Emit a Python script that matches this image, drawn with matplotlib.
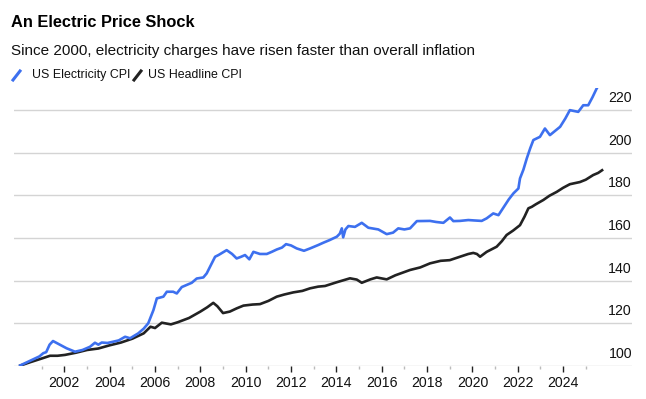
import matplotlib
matplotlib.use("Agg")
import matplotlib.pyplot as plt
import matplotlib.transforms as mtransforms
from matplotlib.lines import Line2D

plt.rcParams['font.family'] = ['Liberation Sans', 'DejaVu Sans']

# electricity CPI, rebased Jan 2000 = 100 (decimal years)
elec_years = [2000.0, 2000.3, 2000.6, 2000.9, 2001.07, 2001.2, 2001.35, 2001.5, 2001.8,
              2002.1, 2002.47, 2002.8, 2003.13, 2003.35, 2003.5, 2003.65, 2003.9, 2004.16,
              2004.4, 2004.68, 2004.9, 2005.26, 2005.5, 2005.7, 2005.93, 2006.08, 2006.2,
              2006.37, 2006.52, 2006.8, 2006.96, 2007.18, 2007.4, 2007.62, 2007.84, 2008.13,
              2008.28, 2008.45, 2008.65, 2008.8, 2009.16, 2009.4, 2009.6, 2009.8, 2009.97,
              2010.16, 2010.34, 2010.63, 2010.93, 2011.15, 2011.37, 2011.6, 2011.78, 2012.0,
              2012.25, 2012.57, 2012.84, 2013.2, 2013.43, 2013.7, 2014.02, 2014.15, 2014.24,
              2014.3, 2014.4, 2014.53, 2014.82, 2015.12, 2015.41, 2015.85, 2016.22, 2016.5,
              2016.73, 2017.0, 2017.25, 2017.55, 2018.13, 2018.4, 2018.72, 2019.01, 2019.16,
              2019.45, 2019.82, 2020.1, 2020.41, 2020.63, 2020.92, 2021.15, 2021.44, 2021.6,
              2021.81, 2022.03, 2022.1, 2022.25, 2022.4, 2022.55, 2022.69, 2022.98, 2023.2,
              2023.42, 2023.65, 2023.87, 2024.1, 2024.3, 2024.67, 2024.89, 2025.11, 2025.3,
              2025.48, 2025.65]
elec_vals = [100, 101.5, 103, 104.5, 106, 106.5, 110, 111.7, 110,
             108.3, 106.7, 107.5, 109, 110.9, 110, 111, 110.8, 111.4,
             112, 113.7, 113, 115.3, 117.5, 120, 126.2, 131.7, 132,
             132.5, 134.8, 134.8, 134, 137, 138, 139, 141, 141.5,
             143.4, 147, 151.2, 152, 154.3, 152.5, 150.4, 151.2, 152,
             150, 153.5, 152.5, 152.5, 153.5, 154.6, 155.5, 157.1, 156.5,
             155.1, 154, 155.1, 156.7, 157.8, 159, 160.6, 162, 164.5,
             160.3, 164, 165.6, 165.2, 167.1, 164.8, 164, 161.8, 162.5,
             164.5, 164, 164.5, 167.9, 168, 167.5, 167.1, 169.6, 167.9,
             168, 168.4, 168.2, 168, 169.2, 171.5, 170.7, 175.4, 178,
             180.9, 183.2, 187.9, 192, 197.3, 202, 205.9, 207.4, 211.3,
             208.2, 210.2, 212.1, 216, 219.9, 219.1, 222.2, 222.2, 226,
             230, 233]

# headline CPI, rebased Jan 2000 = 100
head_years = [2000.0, 2000.5, 2001.0, 2001.37, 2001.7, 2002.03, 2002.5, 2003.0, 2003.5,
              2004.0, 2004.5, 2005.0, 2005.5, 2005.8, 2006.0, 2006.3, 2006.7, 2007.0,
              2007.5, 2008.0, 2008.3, 2008.57, 2008.75, 2009.0, 2009.3, 2009.6, 2009.9,
              2010.3, 2010.63, 2011.0, 2011.37, 2011.7, 2012.1, 2012.5, 2012.84, 2013.2,
              2013.5, 2014.0, 2014.6, 2014.9, 2015.12, 2015.5, 2015.78, 2016.22, 2016.6,
              2017.25, 2017.7, 2018.13, 2018.6, 2019.0, 2019.45, 2019.82, 2020.04, 2020.2,
              2020.34, 2020.63, 2021.07, 2021.3, 2021.51, 2021.8, 2022.1, 2022.3, 2022.47,
              2022.62, 2022.8, 2023.13, 2023.4, 2023.72, 2024.0, 2024.3, 2024.74, 2025.0,
              2025.33, 2025.55, 2025.77]
head_vals = [100, 101.8, 103.5, 104.8, 104.8, 105.2, 106.2, 107.5, 108.2,
             109.7, 111, 112.8, 115.3, 118.4, 117.8, 120.3, 119.5, 120.5,
             122.5, 125.5, 127.5, 129.6, 128, 124.8, 125.5, 127, 128.3,
             128.8, 129, 130.5, 132.5, 133.5, 134.5, 135.2, 136.4, 137.2,
             137.5, 139.2, 141.1, 140.5, 139, 140.6, 141.5, 140.6, 142.5,
             145, 146.2, 148.1, 149.3, 149.6, 151.2, 152.5, 153, 152.5,
             151.2, 153.5, 155.9, 158.5, 161.4, 163.5, 166, 170, 173.9,
             174.6, 175.8, 177.8, 179.8, 181.6, 183.5, 185.2, 186.2, 187.3,
             189.5, 190.5, 192.1]

y_ticks = [100, 120, 140, 160, 180, 200, 220]
major_years = list(range(2002, 2025, 2))
minor_years = list(range(2001, 2026, 2))

blue = '#3d70ef'
black = '#222222'

fig = plt.figure(figsize=(6.46, 3.99), dpi=100)
ax = fig.add_axes([0.0217, 0.0827, 0.9566, 0.6963])

for v in y_ticks:
    ax.axhline(v, color='#d4d4d4', lw=1.0, zorder=1)

ax.plot(head_years, head_vals, color=black, lw=1.9, zorder=3, solid_capstyle='butt')
ax.plot(elec_years, elec_vals, color=blue, lw=1.9, zorder=4, solid_capstyle='butt')

ax.set_xlim(1999.78, 2027.04)
ax.set_ylim(100, 230.2)

for s in ax.spines.values():
    s.set_visible(False)

ax.set_yticks([])
ax.set_xticks(major_years)
ax.set_xticklabels([str(y) for y in major_years], fontsize=10.2, color='#111111')
ax.set_xticks(minor_years, minor=True)
ax.tick_params(axis='x', which='major', length=4.5, width=1.0, color='#222222', pad=3)
ax.tick_params(axis='x', which='minor', length=2, width=1.0, color='#bbbbbb')

trans = mtransforms.blended_transform_factory(ax.transAxes, ax.transData)
for v in y_ticks:
    ax.annotate(str(v), xy=(1.0, v), xycoords=trans, xytext=(0, 8.6),
                textcoords='offset points', ha='right', va='center',
                fontsize=10.2, color='#111111')

fig.text(11 / 646, 1 - 27 / 399, 'An Electric Price Shock', fontsize=11.8,
         fontweight='bold', va='baseline', ha='left', color='#000000')
fig.text(11 / 646, 1 - 55 / 399,
         'Since 2000, electricity charges have risen faster than overall inflation',
         fontsize=11, va='baseline', ha='left', color='#111111')

# legend swatches
fig.add_artist(Line2D([13 / 646, 20 / 646], [1 - 80 / 399, 1 - 71 / 399],
                      color=blue, lw=2.2, transform=fig.transFigure))
fig.text(32 / 646, 1 - 78 / 399, 'US Electricity CPI', fontsize=8.9,
         va='baseline', ha='left', color='#111111')
fig.add_artist(Line2D([134 / 646, 141 / 646], [1 - 80 / 399, 1 - 71 / 399],
                      color=black, lw=2.2, transform=fig.transFigure))
fig.text(148 / 646, 1 - 78 / 399, 'US Headline CPI', fontsize=8.9,
         va='baseline', ha='left', color='#111111')

fig.savefig('out.png', dpi=100)
